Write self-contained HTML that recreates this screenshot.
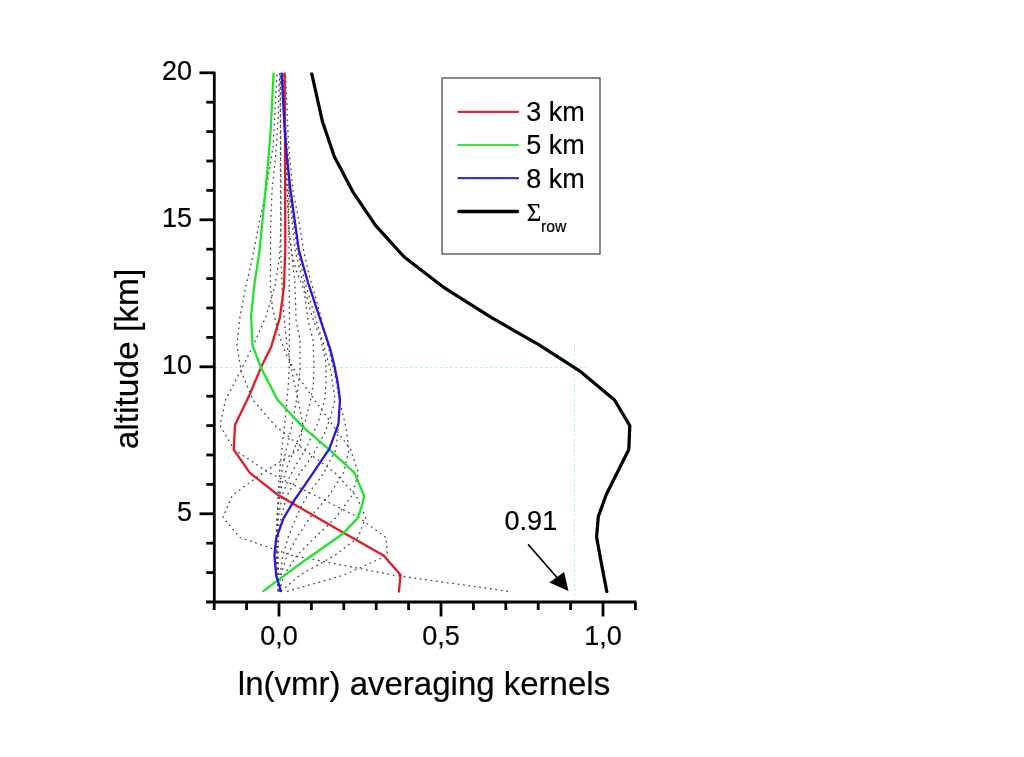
<!DOCTYPE html>
<html lang="en"><head><meta charset="utf-8"><title>ln(vmr) averaging kernels</title>
<style>html,body{margin:0;padding:0;background:#fff;overflow:hidden}body{width:1024px;height:757px;position:relative}</style></head>
<body>
<svg width="1024" height="757" viewBox="0 0 1024 757" style="position:absolute;left:0;top:0">
<rect width="1024" height="757" fill="#fff"/>
<defs><clipPath id="cp"><rect x="200" y="72.6" width="500" height="540"/></clipPath></defs>
<g stroke="#bdeff1" stroke-width="1" stroke-dasharray="2.6,2.4" fill="none">
<line x1="215" y1="367.5" x2="587" y2="367.5"/>
<line x1="574.5" y1="344" x2="574.5" y2="602"/>
</g>
<g stroke="#4a4a4a" stroke-width="1.3" stroke-dasharray="1.8,3.65" fill="none" stroke-linejoin="round" clip-path="url(#cp)">
<polyline points="507.9,591.3 393.0,575.0 291.6,555.3 240.0,537.5 222.9,517.5 232.2,495.5 263.0,472.8 299.0,449.5 303.0,425.5 298.0,400.0 292.0,372.0 287.0,346.0 284.0,316.5 282.0,285.5 281.0,257.5 280.5,191.0 280.5,73.0"/>
<polyline points="287.0,591.3 344.0,575.0 387.5,555.3 386.0,537.5 359.0,517.5 315.0,495.5 269.0,472.8 234.0,449.5 220.0,425.5 225.5,400.0 240.0,372.0 253.0,346.0 266.0,316.5 275.0,285.5 279.5,257.5 281.0,225.0 281.0,191.0 280.0,73.0"/>
<polyline points="281.0,591.3 300.0,575.0 335.0,555.3 358.0,537.5 365.7,517.5 356.0,495.5 335.0,472.8 304.0,449.5 275.0,425.5 253.0,400.0 241.5,372.0 236.8,346.0 240.0,316.5 246.0,285.5 252.5,257.5 259.7,220.0 266.0,191.0 273.3,145.0 277.0,73.0"/>
<polyline points="279.5,591.3 284.0,575.0 297.0,555.3 315.0,537.5 336.0,517.5 352.0,495.5 358.4,472.8 350.5,449.5 333.0,425.5 314.5,400.0 296.8,374.8 285.6,353.0 278.3,332.5 272.5,308.0 270.3,285.5 270.5,257.5 270.7,225.0 272.0,191.0 275.5,157.0 278.0,122.0 279.6,73.0"/>
<polyline points="279.0,591.3 281.0,575.0 287.0,555.3 297.0,537.5 310.0,517.5 329.0,495.5 343.5,472.8 349.0,449.5 345.5,425.5 339.5,400.0 334.5,372.0 328.0,346.0 321.8,320.0 314.6,294.0 309.3,275.5 304.0,253.0 298.7,220.0 293.0,191.0 288.6,145.0 285.5,73.0"/>
<polyline points="278.5,591.3 278.0,575.0 277.5,555.3 278.5,537.5 281.0,517.5 287.0,495.5 300.0,472.8 305.7,465.6 312.8,455.0 318.8,444.2 324.7,432.9 330.6,416.9 335.0,400.0 331.0,372.0 324.0,346.0 315.0,316.5 305.0,282.5 297.0,250.0 289.5,191.0 286.0,145.0 283.5,73.0"/>
<polyline points="279.0,591.3 280.0,575.0 283.0,555.3 288.0,537.5 296.0,517.5 302.8,503.8 309.0,492.5 317.4,481.9 324.7,471.2 330.3,460.0 336.0,449.5 338.5,425.5"/>
<polyline points="278.0,591.3 277.0,575.0 276.5,555.3 277.0,537.5 278.5,517.5 282.0,495.5 288.0,480.0 295.6,465.6 302.1,455.0 308.0,444.2 313.4,432.9 318.2,422.2 322.9,405.6 324.7,400.8 325.9,384.0 325.9,362.0 321.0,340.0 312.0,316.5 303.0,282.5 295.0,250.0 289.0,191.0 286.0,145.0 284.5,73.0"/>
<polyline points="278.3,591.3 277.0,575.0 276.0,555.3 276.0,537.5 277.0,517.5 279.5,495.5 283.0,480.0 287.8,465.6 292.0,455.0 298.5,438.3 305.1,422.2 310.4,400.8 313.4,383.6 314.0,365.0 313.0,340.0 308.0,320.0 304.0,290.0 296.1,270.2 292.1,254.4 288.8,233.0 287.5,191.0 285.5,145.0 284.0,73.0"/>
<polyline points="279.0,591.3 278.0,575.0 277.0,555.3 276.5,537.5 277.0,517.5 279.0,495.5 282.0,470.0 284.9,455.0 287.8,444.2 291.4,427.6 294.4,411.5 297.3,395.5 298.5,383.0 300.0,370.0 300.0,340.0 296.1,320.0 294.8,280.8 293.4,270.0 289.5,233.0 287.0,191.0 285.0,145.0 283.0,73.0"/>
<polyline points="279.0,591.3 278.0,555.3 277.5,517.5 278.0,495.5 279.5,472.8 281.3,455.0 283.0,438.3 285.5,416.9 288.4,383.6 289.2,365.0 289.5,320.0 288.8,220.0 288.6,160.0 286.0,130.0 282.0,73.0"/>
</g>
<polyline points="284.6,73.0 285.0,130.0 285.3,250.0 284.9,258.5 284.0,286.2 279.9,317.7 271.0,347.3 260.9,367.6 249.8,394.2 235.0,425.1 233.7,449.7 249.8,472.8 278.1,495.0 340.0,530.8 383.6,555.4 400.6,574.9 398.9,591.6" fill="none" stroke="#e21c24" stroke-width="2.3" stroke-linejoin="round" stroke-linecap="round" clip-path="url(#cp)"/>
<polyline points="273.6,73.0 270.7,130.0 267.5,169.6 259.6,250.0 254.4,284.4 251.1,315.8 252.5,345.4 260.9,367.6 277.5,399.8 302.5,426.6 328.4,448.8 354.3,472.6 364.2,495.9 362.2,505.1 357.6,518.1 342.8,533.8 305.8,559.7 263.3,591.1" fill="none" stroke="#20e42c" stroke-width="2.3" stroke-linejoin="round" stroke-linecap="round" clip-path="url(#cp)"/>
<polyline points="281.6,73.0 284.7,130.0 286.6,153.8 290.5,190.0 298.8,250.0 300.6,256.6 308.0,282.5 319.1,315.8 330.2,349.1 334.8,367.6 337.6,382.2 340.0,399.8 338.5,423.8 329.3,448.8 304.3,485.8 294.7,499.6 283.6,518.1 276.2,538.4 274.4,555.1 276.2,575.4 280.9,591.1" fill="none" stroke="#2a16e2" stroke-width="2.3" stroke-linejoin="round" stroke-linecap="round" clip-path="url(#cp)"/>
<polyline points="311.7,73.5 322.5,121.8 334.4,156.7 352.7,191.6 375.5,225.3 404.2,257.0 442.9,286.8 491.5,317.6 539.1,344.9 580.7,371.7 614.5,400.0 629.8,425.7 628.8,449.5 606.3,494.5 598.3,516.6 596.6,537.2 601.5,564.0 606.8,591.5" fill="none" stroke="#000" stroke-width="3.25" stroke-linejoin="round" stroke-linecap="round" clip-path="url(#cp)"/>
<g stroke="#000" stroke-width="2.8" fill="none">
<line x1="214.3" y1="71.7" x2="214.3" y2="603.3"/>
<line x1="206" y1="602" x2="636.3" y2="602"/>
<line x1="206.3" y1="572.6" x2="214.3" y2="572.6"/>
<line x1="206.3" y1="543.2" x2="214.3" y2="543.2"/>
<line x1="199.5" y1="513.8" x2="214.3" y2="513.8"/>
<line x1="206.3" y1="484.4" x2="214.3" y2="484.4"/>
<line x1="206.3" y1="455.0" x2="214.3" y2="455.0"/>
<line x1="206.3" y1="425.6" x2="214.3" y2="425.6"/>
<line x1="206.3" y1="396.2" x2="214.3" y2="396.2"/>
<line x1="199.5" y1="366.8" x2="214.3" y2="366.8"/>
<line x1="206.3" y1="337.4" x2="214.3" y2="337.4"/>
<line x1="206.3" y1="308.0" x2="214.3" y2="308.0"/>
<line x1="206.3" y1="278.6" x2="214.3" y2="278.6"/>
<line x1="206.3" y1="249.2" x2="214.3" y2="249.2"/>
<line x1="199.5" y1="219.8" x2="214.3" y2="219.8"/>
<line x1="206.3" y1="190.4" x2="214.3" y2="190.4"/>
<line x1="206.3" y1="161.0" x2="214.3" y2="161.0"/>
<line x1="206.3" y1="131.6" x2="214.3" y2="131.6"/>
<line x1="206.3" y1="102.2" x2="214.3" y2="102.2"/>
<line x1="199.5" y1="72.8" x2="214.3" y2="72.8"/>
<line x1="214.2" y1="602" x2="214.2" y2="610"/>
<line x1="246.6" y1="602" x2="246.6" y2="610"/>
<line x1="279.0" y1="602" x2="279.0" y2="616.5"/>
<line x1="311.4" y1="602" x2="311.4" y2="610"/>
<line x1="343.8" y1="602" x2="343.8" y2="610"/>
<line x1="376.2" y1="602" x2="376.2" y2="610"/>
<line x1="408.6" y1="602" x2="408.6" y2="610"/>
<line x1="441.0" y1="602" x2="441.0" y2="616.5"/>
<line x1="473.4" y1="602" x2="473.4" y2="610"/>
<line x1="505.8" y1="602" x2="505.8" y2="610"/>
<line x1="538.2" y1="602" x2="538.2" y2="610"/>
<line x1="570.6" y1="602" x2="570.6" y2="610"/>
<line x1="603.0" y1="602" x2="603.0" y2="616.5"/>
<line x1="635.4" y1="602" x2="635.4" y2="610"/>
</g>
<line x1="528.1" y1="544.4" x2="560" y2="581" stroke="#000" stroke-width="1.6"/>
<polygon points="568.5,590.9 549.3,582.6 564.1,572" fill="#000"/>
<rect x="442" y="78" width="158" height="176" fill="#fff" stroke="#2a2a2a" stroke-width="1.1"/>
<line x1="458.4" y1="111.8" x2="518.1" y2="111.8" stroke="#e6262a" stroke-width="2.2" stroke-linecap="round"/>
<line x1="458.4" y1="145" x2="518.1" y2="145" stroke="#3fe04a" stroke-width="2.2" stroke-linecap="round"/>
<line x1="458.4" y1="178.1" x2="518.1" y2="178.1" stroke="#3a30dc" stroke-width="2.2" stroke-linecap="round"/>
<line x1="458.9" y1="211.5" x2="517.6" y2="211.5" stroke="#000" stroke-width="3.3" stroke-linecap="round"/>
<g font-family="'Liberation Sans', Arial, sans-serif" fill="#000" stroke="#000" stroke-width="0.2">
<g font-size="27">
<text x="526.2" y="121">3 km</text>
<text x="526.2" y="154.3">5 km</text>
<text x="526.2" y="187.5">8 km</text>
<text x="526.8" y="221" font-family="'Liberation Serif', serif" font-size="25">Σ</text>
<text x="541" y="231.5" font-size="15.7">row</text>
<text x="192" y="80.0" text-anchor="end">20</text>
<text x="192" y="227.0" text-anchor="end">15</text>
<text x="192" y="374.0" text-anchor="end">10</text>
<text x="192" y="521.0" text-anchor="end">5</text>
<text x="279" y="644.8" text-anchor="middle">0,0</text>
<text x="441" y="644.8" text-anchor="middle">0,5</text>
<text x="603" y="644.8" text-anchor="middle">1,0</text>
<text x="504.6" y="529.6">0.91</text>
</g>
<text x="424" y="695.3" font-size="33" text-anchor="middle">ln(vmr) averaging kernels</text>
<text transform="translate(138,359) rotate(-90)" font-size="33.5" text-anchor="middle">altitude [km]</text>
</g>
</svg>
</body></html>
